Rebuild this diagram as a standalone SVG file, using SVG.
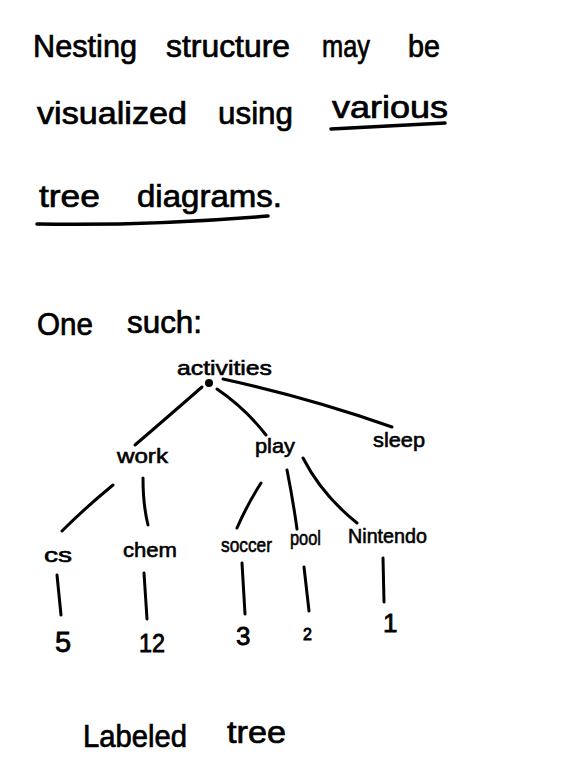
<svg xmlns="http://www.w3.org/2000/svg" width="573" height="769" viewBox="0 0 573 769">
<style>
text{font-family:"Liberation Sans","DejaVu Sans",sans-serif;fill:#000;stroke:#000;stroke-width:0.7;}
.h{font-size:31px;}
.n{font-size:21px;stroke-width:0.6;}
.num{font-size:26px;stroke-width:0.8;}
.e{fill:none;stroke:#000;stroke-width:3;stroke-linecap:round;}
.u{fill:none;stroke:#000;stroke-width:3.5;stroke-linecap:round;}
</style>
<rect width="573" height="769" fill="#fff"/>
<g id="intro">
<text class="h" x="33" y="57" textLength="104" lengthAdjust="spacingAndGlyphs">Nesting</text>
<text class="h" x="166" y="57" textLength="124" lengthAdjust="spacingAndGlyphs">structure</text>
<text class="h" x="322" y="57" textLength="48" lengthAdjust="spacingAndGlyphs">may</text>
<text class="h" x="408" y="57" textLength="32" lengthAdjust="spacingAndGlyphs">be</text>
<text class="h" x="37" y="124" textLength="150" lengthAdjust="spacingAndGlyphs">visualized</text>
<text class="h" x="218" y="124" textLength="75" lengthAdjust="spacingAndGlyphs">using</text>
<text class="h" x="332" y="118" textLength="116" lengthAdjust="spacingAndGlyphs">various</text>
<text class="h" x="39" y="207" textLength="61" lengthAdjust="spacingAndGlyphs">tree</text>
<text class="h" x="137" y="207" textLength="145" lengthAdjust="spacingAndGlyphs">diagrams.</text>
<path class="u" d="M331 129 Q390 126 445 123"/>
<path class="u" d="M37 224 Q150 226 268 216"/>
<text class="h" x="37" y="335" textLength="56" lengthAdjust="spacingAndGlyphs">One</text>
<text class="h" x="127" y="333" textLength="75" lengthAdjust="spacingAndGlyphs">such:</text>
</g>
<g id="connectors">
<path class="e" d="M202 387 Q170 415 135 445"/>
<path class="e" d="M217 389 Q245 408 266 435"/>
<path class="e" d="M223 379 Q310 398 392 427"/>
<path class="e" d="M113 485 Q85 508 62 531"/>
<path class="e" d="M143 478 Q143 505 148 525"/>
<path class="e" d="M261 483 Q247 505 237 528"/>
<path class="e" d="M287 470 Q293 500 297 529"/>
<path class="e" d="M303 458 Q322 495 357 523"/>
<path class="e" d="M57 575 L61 615"/>
<path class="e" d="M144 573 L147 619"/>
<path class="e" d="M242 563 L245 614"/>
<path class="e" d="M304 567 L309 611"/>
<path class="e" d="M383 558 L384 602"/>
</g>
<g id="activities">
<text class="n" x="177" y="375" textLength="95" lengthAdjust="spacingAndGlyphs">activities</text>
<circle cx="209" cy="383" r="4" fill="#000"/>
</g>
<g id="work"><text class="n" x="117" y="463" textLength="51" lengthAdjust="spacingAndGlyphs">work</text></g>
<g id="play"><text class="n" x="255" y="453" textLength="40" lengthAdjust="spacingAndGlyphs">play</text></g>
<g id="sleep"><text class="n" x="373" y="447" textLength="52" lengthAdjust="spacingAndGlyphs">sleep</text></g>
<g id="cs"><text class="n" x="44" y="562" textLength="28" lengthAdjust="spacingAndGlyphs">cs</text></g>
<g id="chem"><text class="n" x="123" y="557" textLength="54" lengthAdjust="spacingAndGlyphs">chem</text></g>
<g id="soccer"><text class="n" x="221" y="552" textLength="51" lengthAdjust="spacingAndGlyphs">soccer</text></g>
<g id="pool"><text class="n" x="290" y="545" textLength="31" lengthAdjust="spacingAndGlyphs">pool</text></g>
<g id="nintendo"><text class="n" x="348" y="543" textLength="79" lengthAdjust="spacingAndGlyphs">Nintendo</text></g>
<g id="v5"><text class="num" x="55" y="652" style="font-size:29px">5</text></g>
<g id="v12"><text class="num" x="139" y="652" textLength="26" lengthAdjust="spacingAndGlyphs">12</text></g>
<g id="v3"><text class="num" x="236" y="645">3</text></g>
<g id="v2"><text class="num" x="303" y="640" style="font-size:16px">2</text></g>
<g id="v1"><text class="num" x="383" y="632">1</text></g>
<g id="caption">
<text class="h" x="83" y="747" textLength="104" lengthAdjust="spacingAndGlyphs">Labeled</text>
<text class="h" x="227" y="743" textLength="59" lengthAdjust="spacingAndGlyphs">tree</text>
</g>
</svg>
